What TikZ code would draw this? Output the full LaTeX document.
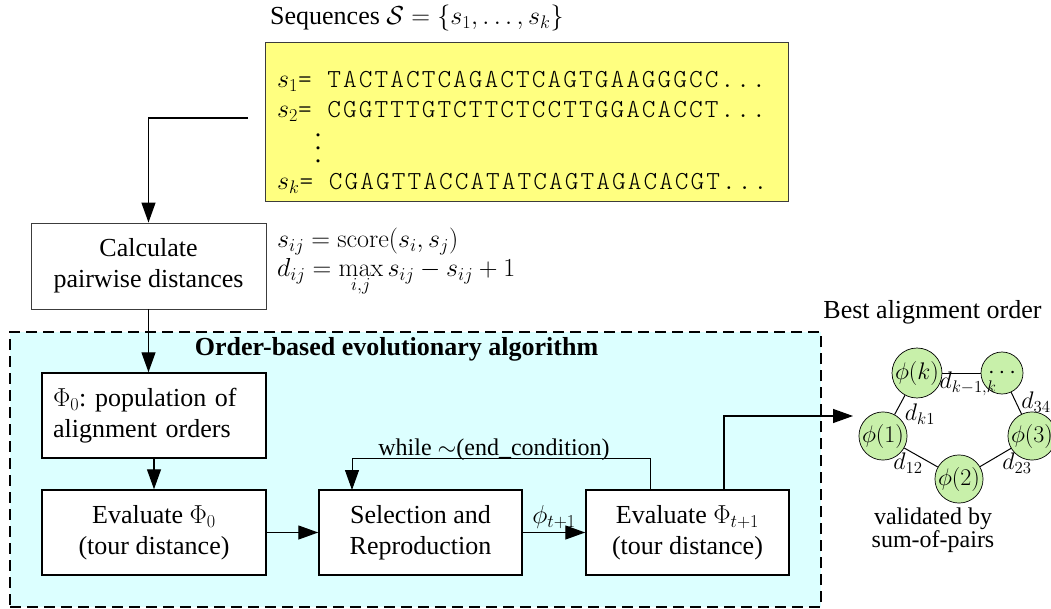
\RequirePackage{fix-cm}
\documentclass[tikz,border=0pt]{standalone}
\usepackage[no-math]{fontspec}
\setmainfont{Liberation Serif}
\newfontfamily\seqfont{lmmonolt10-regular}[Extension=.otf,LetterSpace=8]
\usetikzlibrary{arrows.meta}
\definecolor{seqyellow}{RGB}{255,255,128}
\definecolor{evocyan}{RGB}{220,255,255}
\definecolor{nodegreen}{RGB}{200,240,170}
\definecolor{bordergray}{RGB}{60,60,60}
\newcommand{\seqtt}[1]{{\seqfont #1}}
\frenchspacing
\begin{document}
\begin{tikzpicture}[x=1pt,y=-1pt,
  every node/.style={font=\fontsize{26}{31}\selectfont},
  arr/.style={line width=1.3pt,-{Triangle[length=20pt,width=14pt]}},
  plainline/.style={line width=1pt},
  box/.style={draw=black,line width=1.5pt,fill=white,minimum width=224pt,minimum height=85pt,inner sep=0pt,align=center},
  smallbox/.style={box,minimum width=203pt},
  calcbox/.style={draw=bordergray,line width=0.9pt,fill=white,minimum width=235pt,minimum height=86pt,inner sep=0pt,align=center},
  seqbox/.style={draw=bordergray,line width=0.9pt,fill=seqyellow,minimum width=523pt,minimum height=159pt,inner sep=0pt},
  evoregion/.style={draw=black,line width=1.8pt,dash pattern=on 11pt off 6pt,fill=evocyan,minimum width=811pt,minimum height=275pt,inner sep=0pt},
  seqline/.style={anchor=base west,inner sep=0pt},
  circ/.style={circle,draw=black,line width=0.7pt,fill=nodegreen,minimum size=42pt,inner sep=0pt,font=\fontsize{24}{28}\selectfont},
  elabel/.style={inner sep=0pt,font=\fontsize{24}{28}\selectfont},
  lbl/.style={inner sep=0pt,font=\fontsize{24}{28}\selectfont}
]
\useasboundingbox (0,0) rectangle (1051,609);

% dashed evolutionary region
\node[evoregion] (evo) at (415.5,469.5) {};

% sequences
\node[anchor=base west,inner sep=0pt] (seqtitle) at (270,25) {Sequences $\mathcal{S} = \{s_1,\ldots,s_k\}$};
\node[seqbox] (seq) at (526.5,121.5) {};
\node[seqline] (l1) at (277,88) {$s_1$\seqtt{= TACTACTCAGACTCAGTGAAGGGCC...}};
\node[seqline] (l2) at (277,118) {$s_2$\seqtt{= CGGTTTGTCTTCTCCTTGGACACCT...}};
\node[inner sep=0pt] (vd) at (318,148) {\vbox{\baselineskip=13pt\lineskiplimit=0pt\hbox{.}\hbox{.}\hbox{.}}};
\node[seqline] (lk) at (277,190) {$s_k$\seqtt{= CGAGTTACCATATCAGTAGACACGT...}};

% pairwise distances
\node[calcbox] (calc) at (148.5,266) {Calculate\\pairwise distances};
\node[anchor=base west,inner sep=0pt] (f1) at (277,248) {$s_{ij} = \mathrm{score}(s_i,s_j)$};
\node[anchor=base west,inner sep=0pt] (f2) at (277,277) {$d_{ij} = \max\limits_{i,j} s_{ij} - s_{ij} + 1$};

% algorithm
\node[inner sep=0pt,font=\fontsize{26}{31}\selectfont\bfseries] (evotitle) at (396.5,349) {Order-based evolutionary algorithm};
\node[box,text width=202pt,align=left] (phi0) at (154,415.5) {$\Phi_0$: population of\\alignment orders};
\node[box] (eval0) at (154,532.5) {Evaluate $\Phi_0$\\(tour distance)};
\node[smallbox] (sel) at (420.5,532.5) {Selection and\\Reproduction};
\node[smallbox] (evalt) at (687.5,532.5) {Evaluate $\Phi_{t+1}$\\(tour distance)};
\node[lbl] (while) at (494,450) {while $\sim$(end\_condition)};

% connectors
\coordinate (seqout) at (248,118);
\draw[arr] (seqout) -| (calc.north);
\draw[arr] (calc.south) -- (calc.south |- phi0.north);
\draw[arr] (eval0.north |- phi0.south) -- (eval0.north);
\draw[arr] (eval0.east) -- (sel.west);
\draw[arr] (sel.east) -- node[above=3pt,inner sep=0pt] (phit) {$\phi_{t+1}$} (evalt.west);
\coordinate (loopstart) at (650,490);
\coordinate (loopend) at (352,490);
\draw[arr,line width=1pt] (loopstart) -- ++(0,-32) -| (loopend);
\coordinate (bestin) at (853,416);
\coordinate (evalout) at (724,490);
\draw[arr] (evalout) |- (bestin);

% best alignment order graph
\node[inner sep=0pt] (besttitle) at (932.5,312) {Best alignment order};
\node[circ] (pk) at (917,373) {$\phi(k)$};
\node[circ] (pd) at (1002,373) {$\cdots$};
\node[circ] (p1) at (883,436) {$\phi(1)$};
\node[circ] (p2) at (959,479) {$\phi(2)$};
\node[circ] (p3) at (1032,436) {$\phi(3)$};
\draw[plainline] (pk) -- (pd);
\draw[plainline] (pd) -- (p3);
\draw[plainline] (p3) -- (p2);
\draw[plainline] (p2) -- (p1);
\draw[plainline] (p1) -- (pk);
\node[elabel] (dkk) at (968,384) {$d_{k-1,k}$};
\node[elabel] (d34) at (1036,402) {$d_{34}$};
\node[elabel] (dk1) at (920,414) {$d_{k1}$};
\node[elabel] (d12) at (908,463) {$d_{12}$};
\node[elabel] (d23) at (1017,463) {$d_{23}$};
\node[lbl,align=center,font=\fontsize{24}{21}\selectfont] (valid) at (933,530) {validated by\\sum-of-pairs};
\end{tikzpicture}
\end{document}
